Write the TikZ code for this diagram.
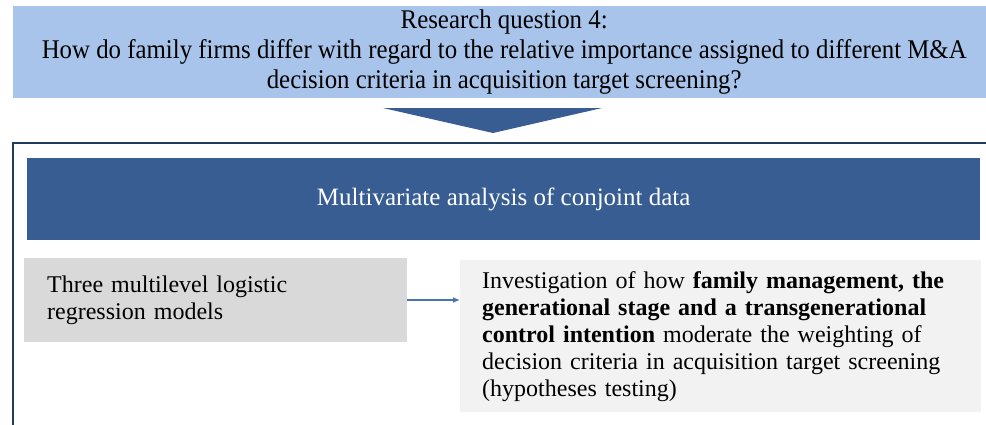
\documentclass[tikz,border=0pt]{standalone}
\usepackage{fontspec}
\setmainfont{Liberation Serif}
\newfontfamily\narrowserif[FakeStretch=0.92]{Liberation Serif}
\usetikzlibrary{arrows.meta}

\definecolor{questionblue}{HTML}{A8C4EA}
\definecolor{bannerblue}{HTML}{385D92}
\definecolor{framenavy}{HTML}{1F3A5C}
\definecolor{boxgray}{HTML}{D9D9D9}
\definecolor{boxlight}{HTML}{F2F2F2}
\definecolor{arrowblue}{HTML}{4A74AC}

\tikzset{
  qbox/.style={fill=questionblue, draw=none, anchor=north west, inner sep=0pt,
    align=center, font=\narrowserif\fontsize{27}{30}\selectfont},
  banner/.style={fill=bannerblue, draw=none, anchor=north west, inner sep=0pt,
    text=white, font=\rmfamily\fontsize{25}{28}\selectfont},
  methodbox/.style={fill=boxgray, draw=none, anchor=north west, inner ysep=0pt,
    inner xsep=23pt, align=left, font=\rmfamily\fontsize{24}{27}\selectfont},
  resultbox/.style={fill=boxlight, draw=none, anchor=north west, inner ysep=0pt,
    inner xsep=22pt, align=left, font=\rmfamily\fontsize{24}{27}\selectfont},
  flowarrow/.style={draw=arrowblue, line width=1.3pt, -{Latex[length=7pt,width=6pt]}},
  funnel/.style={fill=bannerblue, draw=none},
  frameline/.style={draw=framenavy, line width=2pt}
}

\begin{document}
\begin{tikzpicture}[x=1pt, y=-1pt]
  \useasboundingbox (0,0) rectangle (986,424);

  % research question
  \node[qbox, minimum width=982pt, minimum height=92pt] (question) at (13,6)
    {Research question 4:\\
     How do family firms differ with regard to the relative importance assigned to different M\&A\\
     decision criteria in acquisition target screening?};

  % downward funnel arrow
  \fill[funnel] (383,108) -- (602,108) -- (493,133) -- cycle;

  % outer frame, open to the right and bottom
  \draw[frameline] (13,430) -- (13,143) -- (995,143);

  % analysis banner
  \node[banner, minimum width=953pt, minimum height=82pt] (banner) at (27,158)
    {Multivariate analysis of conjoint data};

  % method and result boxes
  \node[methodbox, text width=337pt, minimum height=84pt] (method) at (24,258)
    {Three multilevel logistic\\ regression models};
  \node[resultbox, text width=477pt, minimum height=152pt] (result) at (460,260)
    {Investigation of how \textbf{family management, the}\\
     \textbf{generational stage and a transgenerational}\\
     \textbf{control intention} moderate the weighting of\\
     decision criteria in acquisition target screening\\
     (hypotheses testing)};

  \draw[flowarrow] (method.east |- 0,300) -- (result.west |- 0,300);
\end{tikzpicture}
\end{document}
